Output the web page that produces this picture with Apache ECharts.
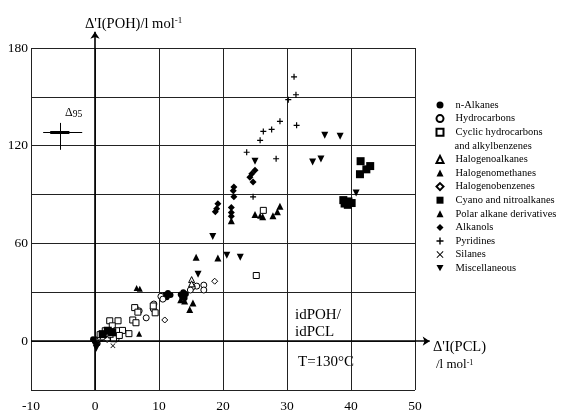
<!DOCTYPE html>
<html>
<head>
<meta charset="utf-8">
<script src="https://cdn.jsdelivr.net/npm/echarts@6/dist/echarts.min.js"></script>
<style>html,body{margin:0;padding:0;background:#fff}#c{width:568px;height:413px}</style>
</head>
<body>
<div id="c"></div>
<script>
// ---- data ----
const categories = ['n-Alkanes','Hydrocarbons','Cyclic hydrocarbons','Halogenoalkanes','Halogenomethanes','Halogenobenzenes','Cyano and nitroalkanes','Polar alkane derivatives','Alkanols','Pyridines','Silanes','Miscellaneous'];
const xTicks = [-10, 0, 10, 20, 30, 40, 50];
const yTicks = [0, 60, 120, 180];

const nAlkanes = [[0,0],[0.4,-1.5],[-0.3,1.2],[0.9,1.5],[1.5,3],[11,28.5],[11.4,29.5],[11.8,28.3],[11.2,27],[13.4,28.6],[13.8,30],[14.2,29],[13.6,27.2],[14,26.5]];
const hydrocarbons = [[0.7,1.8],[1.8,4.8],[3.3,1.3],[6.3,20.4],[6.9,18.6],[8,14.3],[9.2,22.8],[9.1,19.8],[10.3,27.5],[10.6,25.8],[15.9,33.8],[17,34.4],[17,31.4],[15.2,33.2],[14.9,31.4]];
const cyclic = [[2.3,12.5],[3.6,12.5],[2.7,9.4],[1.6,6.4],[3.4,6.4],[4.3,6.6],[5.3,4.6],[2.9,1.5],[0.8,4],[6.2,20.6],[6.7,17.8],[5.9,13],[6.4,11.3],[9.4,17.4],[9.1,21.6],[25.2,40.3],[26.3,80.3],[3.8,3.5]];
const halogenoalkanes = [[15.1,37.8],[15.1,35.2],[0.3,0.6],[1.2,2.6],[2.4,4.2]];
const halogenomethanes = [[6.5,32.6],[7,32.2],[6.9,4.6],[25.8,77]];
const halogenobenzenes = [[10.9,13],[18.7,36.8],[0.2,-0.5],[1.9,1]];
const cyano = [[39,84.5],[39.6,85.8],[40.1,84.8],[38.8,86.6],[39.5,83.7],[41.5,110.5],[43,107.5],[42.4,105.5],[41.4,102.5],[2,6.4],[1.2,4.3],[2.7,5.5]];
const polar = [[15.8,51.5],[19.2,51],[14,24.7],[14.8,19.5],[15.3,23.4],[13.4,25.4],[25,77.8],[26.2,76.4],[27.8,77],[28.5,79.5],[28.9,82.8],[21.3,74]];
const alkanols = [[25,105],[24.5,102.8],[24.2,100.7],[24.7,97.7],[21.7,94.7],[21.6,92.3],[21.7,88.6],[19.2,84.3],[19,81.3],[18.8,79.5],[21.3,82],[21.3,79],[21.3,76.7],[0.1,-1]];
const pyridines = [[31.1,162.3],[31.4,151.3],[30.2,148.3],[28.9,135],[27.6,130],[31.5,132.5],[26.3,128.8],[25.8,123.3],[23.7,116],[28.3,112],[24.7,88.6]];
const silanes = [[2.8,-2.8]];
const misc = [[0.1,-2.7],[0.2,-4.3],[16.1,41],[18.4,64.3],[20.6,52.7],[22.7,51.5],[25,110.5],[34,110],[35.3,111.8],[35.9,126.4],[38.3,125.8],[40.8,91]];

// confidence bar (Delta 95)
const deltaBarH = [[-8.1,128.2],[-2,128.2]];
const deltaBarThick = [[-7,128.2],[-4,128.2]];
const deltaBarV = [[-5.5,117.5],[-5.5,134]];
// main axes through origin (with arrows)
const xArrow = [[-10,0],[52.3,0]];
const yArrow = [[0,-30],[0,190]];

// ---- chart ----
const SERIF = '"Liberation Serif", "DejaVu Serif", serif';
const open = {color:'#fff', borderColor:'#000', borderWidth:1, opacity:1};
const fill = {color:'#000', borderColor:'#000', borderWidth:0, opacity:1};
const PLUS = 'path://M4,0H6V4H10V6H6V10H4V6H0V4H4Z';
const CROSS = 'path://M1,0L5,4L9,0L10,1L6,5L10,9L9,10L5,6L1,10L0,9L4,5L0,1Z';
const DOWN = 'path://M0,0L10,0L5,9Z';

function sc(name, data, symbol, size, style){
  return {type:'scatter', name, data, symbol, symbolSize:size, itemStyle:style, z:3, silent:true};
}
function seg(coords, width, arrow){
  return {type:'lines', coordinateSystem:'cartesian2d', clip:false, silent:true, z:4,
    symbol: arrow ? ['none','arrow'] : ['none','none'], symbolSize:7,
    lineStyle:{color:'#000', width, opacity:1, curveness:0}, data:[{coords}]};
}

const chart = echarts.init(document.getElementById('c'));
const legendBase = {orient:'vertical', left:435.5, itemWidth:7, itemHeight:7, itemGap:0, padding:0,
  symbolKeepAspect:true, selectedMode:false,
  formatter: name => '{p| }' + name,
  textStyle:{fontFamily:SERIF, fontSize:10.5, color:'#000', lineHeight:13.6,
    rich:{p:{width:7, fontSize:10.5, lineHeight:13.6}}}};

chart.setOption({
  animation:false,
  backgroundColor:'#fff',
  grid:{left:31, right:153, top:48, bottom:21},
  legend:[
    Object.assign({}, legendBase, {top:98.2, data:categories.slice(0,3)}),
    Object.assign({}, legendBase, {top:152.6, data:categories.slice(3)})
  ],
  xAxis:{type:'value', min:xTicks[0], max:xTicks[xTicks.length-1], interval:10,
    axisLine:{show:false, onZero:false}, axisTick:{show:false},
    axisLabel:{margin:9, color:'#000', fontFamily:SERIF, fontSize:13.5,
      formatter:v => xTicks.includes(v) ? String(v) : ''},
    splitLine:{show:true, lineStyle:{color:'#222', width:1}}},
  yAxis:{type:'value', min:-30, max:180, interval:30,
    axisLine:{show:false, onZero:false}, axisTick:{show:false},
    axisLabel:{margin:3, color:'#000', fontFamily:SERIF, fontSize:13.5,
      formatter:v => yTicks.includes(v) ? String(v) : ''},
    splitLine:{show:true, lineStyle:{color:'#222', width:1}}},
  graphic:[
    {type:'text', style:{x:85, y:24, verticalAlign:'middle',
      text:'{m|Δ\'I(POH)/l mol}{s|-1}',
      rich:{m:{fontFamily:SERIF, fontSize:14.5, fill:'#000'}, s:{fontFamily:SERIF, fontSize:9, fill:'#000', verticalAlign:'top'}}}},
    {type:'text', style:{x:433, y:347, verticalAlign:'middle', text:'Δ\'I(PCL)', font:'14.5px '+SERIF, fill:'#000'}},
    {type:'text', style:{x:436, y:365, verticalAlign:'middle',
      text:'{m|/l mol}{s|-1}',
      rich:{m:{fontFamily:SERIF, fontSize:13, fill:'#000'}, s:{fontFamily:SERIF, fontSize:8, fill:'#000', verticalAlign:'top'}}}},
    {type:'text', style:{x:295, y:315, verticalAlign:'middle', text:'idPOH/', font:'15px '+SERIF, fill:'#000'}},
    {type:'text', style:{x:295, y:332, verticalAlign:'middle', text:'idPCL', font:'15px '+SERIF, fill:'#000'}},
    {type:'text', style:{x:298, y:362, verticalAlign:'middle', text:'T=130°C', font:'15px '+SERIF, fill:'#000'}},
    {type:'text', style:{x:65, y:113, verticalAlign:'middle',
      text:'{a|Δ}{b|95}',
      rich:{a:{fontFamily:SERIF, fontSize:12, fill:'#000'}, b:{fontFamily:SERIF, fontSize:9.5, fill:'#000', verticalAlign:'bottom'}}}},
    {type:'text', style:{x:454.5, y:146, verticalAlign:'middle', text:'and alkylbenzenes', font:'10.5px '+SERIF, fill:'#000'}}
  ],
  series:[
    seg(xArrow, 1.6, true), seg(yArrow, 1.6, true),
    seg(deltaBarH, 1.2), seg(deltaBarThick, 3), seg(deltaBarV, 1),
    sc(categories[0], nAlkanes, 'circle', 6, fill),
    sc(categories[1], hydrocarbons, 'circle', 6, open),
    sc(categories[2], cyclic, 'rect', 6, open),
    sc(categories[3], halogenoalkanes, 'triangle', 6, open),
    sc(categories[4], halogenomethanes, 'triangle', 6, fill),
    sc(categories[5], halogenobenzenes, 'diamond', 6, open),
    sc(categories[6], cyano, 'rect', 8, fill),
    sc(categories[7], polar, 'triangle', 7, fill),
    sc(categories[8], alkanols, 'diamond', 7, fill),
    sc(categories[9], pyridines, PLUS, 6, fill),
    sc(categories[10], silanes, CROSS, 5, fill),
    sc(categories[11], misc, DOWN, 7, fill)
  ]
});
</script>
</body>
</html>
